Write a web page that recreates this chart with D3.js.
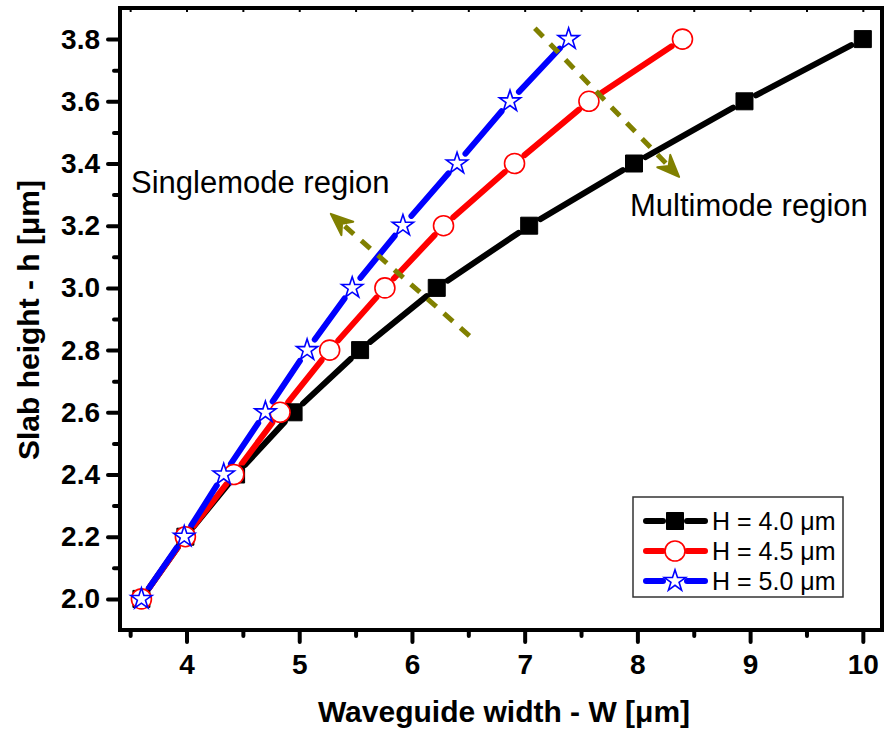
<!DOCTYPE html>
<html>
<head>
<meta charset="utf-8">
<script src="https://cdn.jsdelivr.net/npm/d3@7/dist/d3.min.js"></script>
<style>
  html, body { margin: 0; padding: 0; background: #fff; }
  svg { display: block; font-family: "Liberation Sans", Arial, sans-serif; }
</style>
</head>
<body>
<svg id="chart" width="884" height="738"></svg>
<script>
// ---- data ----
const hValues = [2.0, 2.2, 2.4, 2.6, 2.8, 3.0, 3.2, 3.4, 3.6, 3.8];
const wH40 = [3.60, 3.99, 4.44, 4.95, 5.54, 6.22, 7.04, 7.97, 8.95, 10.0];
const wH45 = [3.60, 3.99, 4.42, 4.83, 5.27, 5.76, 6.28, 6.91, 7.57, 8.40];
const wH50 = [3.60, 3.98, 4.33, 4.70, 5.07, 5.47, 5.92, 6.40, 6.87, 7.39];
const seriesNames = ["H = 4.0 \u03bcm", "H = 4.5 \u03bcm", "H = 5.0 \u03bcm"];
const xTicks = [4, 5, 6, 7, 8, 9, 10];
const xMinorTicks = [3.5, 4.5, 5.5, 6.5, 7.5, 8.5, 9.5];
const yTicks = [2.0, 2.2, 2.4, 2.6, 2.8, 3.0, 3.2, 3.4, 3.6, 3.8];
const yMinorTicks = [2.1, 2.3, 2.5, 2.7, 2.9, 3.1, 3.3, 3.5, 3.7];
const xTitle = "Waveguide width - W [\u03bcm]";
const yTitle = "Slab height - h [\u03bcm]";
const annotations = ["Singlemode region", "Multimode region"];
// arrows in data coordinates: [W0, h0, W1, h1] (arrowhead at end)
const arrowMulti = [7.09, 3.835, 8.37, 3.357];
const arrowSingle = [6.51, 2.846, 5.28, 3.238];

// ---- layout ----
const svg = d3.select("#chart");
const L = 120, R = 882, T = 8, B = 630;
const x = d3.scaleLinear().domain([3.41, 10.17]).range([L, R]);
const y = d3.scaleLinear().domain([1.9, 3.9]).range([B, T]);

const series = [
  { name: seriesNames[0], w: wH40, color: "#000000", marker: "square" },
  { name: seriesNames[1], w: wH45, color: "#ff0000", marker: "circle" },
  { name: seriesNames[2], w: wH50, color: "#0000ff", marker: "star" }
];

function markerPath(type) {
  if (type === "square") return d3.symbol(d3.symbolSquare, 289)();
  if (type === "circle") return d3.symbol(d3.symbolCircle, Math.PI * 100)();
  return d3.symbol(d3.symbolStar, 140)();
}
function styleMarker(sel, s) {
  if (s.marker === "square") sel.attr("fill", "#000").attr("stroke", "#000").attr("stroke-width", 1);
  else sel.attr("fill", "#fff").attr("stroke", s.color).attr("stroke-width", 1.6);
}

// ---- axes ----
function styleAxis(g) {
  g.select(".domain").remove();
  g.selectAll(".tick line").attr("stroke", "#000").attr("stroke-width", 4).attr("stroke-linecap", "round");
}
const gx = svg.append("g").attr("transform", `translate(0,${B})`)
  .call(d3.axisBottom(x).tickValues(xTicks).tickSize(12).tickPadding(12).tickFormat(d3.format("d")));
styleAxis(gx);
gx.selectAll("text").attr("font-size", 28).attr("font-weight", "bold").attr("fill", "#000")
  .attr("font-family", "Liberation Sans, Arial, sans-serif");
const gxm = svg.append("g").attr("transform", `translate(0,${B})`)
  .call(d3.axisBottom(x).tickValues(xMinorTicks).tickSize(6).tickFormat(""));
styleAxis(gxm);

const gy = svg.append("g").attr("transform", `translate(${L},0)`)
  .call(d3.axisLeft(y).tickValues(yTicks).tickSize(12).tickPadding(8).tickFormat(d3.format(".1f")));
styleAxis(gy);
gy.selectAll("text").attr("font-size", 28).attr("font-weight", "bold").attr("fill", "#000")
  .attr("font-family", "Liberation Sans, Arial, sans-serif");
const gym = svg.append("g").attr("transform", `translate(${L},0)`)
  .call(d3.axisLeft(y).tickValues(yMinorTicks).tickSize(6).tickFormat(""));
styleAxis(gym);

// small inward ticks on top
const gt = svg.append("g").attr("transform", `translate(0,${T})`)
  .call(d3.axisBottom(x).tickValues(xTicks.concat(xMinorTicks)).tickSize(4).tickFormat(""));
gt.select(".domain").remove();
gt.selectAll(".tick line").attr("stroke", "#000").attr("stroke-width", 2);

// frame
svg.append("rect").attr("x", L).attr("y", T).attr("width", R - L).attr("height", B - T)
  .attr("fill", "none").attr("stroke", "#000").attr("stroke-width", 4);

// ---- series ----
const gap = 13;
series.forEach(s => {
  const pts = s.w.map((w, i) => [x(w), y(hValues[i])]);
  const segs = [];
  for (let i = 0; i < pts.length - 1; i++) {
    const [x0, y0] = pts[i], [x1, y1] = pts[i + 1];
    const len = Math.hypot(x1 - x0, y1 - y0);
    if (len <= 2 * gap + 2) continue;
    const ux = (x1 - x0) / len, uy = (y1 - y0) / len;
    segs.push([[x0 + ux * gap, y0 + uy * gap], [x1 - ux * gap, y1 - uy * gap]]);
  }
  svg.append("g").selectAll("path").data(segs).join("path")
    .attr("d", d => d3.line()(d))
    .attr("stroke", s.color).attr("stroke-width", 6).attr("stroke-linecap", "round").attr("fill", "none");
});
series.forEach(s => {
  svg.append("g").selectAll("path").data(s.w.map((w, i) => [w, hValues[i]])).join("path")
    .attr("d", markerPath(s.marker))
    .attr("transform", d => `translate(${x(d[0])},${y(d[1])})`)
    .call(sel => styleMarker(sel, s));
});

// ---- arrows ----
const olive = "#808000";
function arrow(a) {
  const x0 = x(a[0]), y0 = y(a[1]), x1 = x(a[2]), y1 = y(a[3]);
  const ang = Math.atan2(y1 - y0, x1 - x0);
  const g = svg.append("g");
  const ux = Math.cos(ang), uy = Math.sin(ang);
  g.append("line").attr("x1", x0).attr("y1", y0)
    .attr("x2", x1 - ux * 12).attr("y2", y1 - uy * 12)
    .attr("stroke", olive).attr("stroke-width", 5).attr("stroke-dasharray", "12,10");
  g.append("path")
    .attr("d", "M0,0 L-22,-9 L-15,0 L-22,9 Z")
    .attr("transform", `translate(${x1},${y1}) rotate(${ang * 180 / Math.PI})`)
    .attr("fill", olive).attr("stroke", olive).attr("stroke-width", 2).attr("stroke-linejoin", "round");
}
arrow(arrowMulti);
arrow(arrowSingle);

// ---- annotations ----
svg.append("text").attr("x", 131).attr("y", 193).attr("font-size", 31).text(annotations[0]);
svg.append("text").attr("x", 630).attr("y", 216).attr("font-size", 31).text(annotations[1]);

// ---- legend ----
const lg = svg.append("g");
lg.append("rect").attr("x", 633).attr("y", 497).attr("width", 210).attr("height", 100)
  .attr("fill", "#fff").attr("stroke", "#333").attr("stroke-width", 1.5);
const rowY = [521, 551, 581];
series.forEach((s, i) => {
  const yy = rowY[i];
  lg.append("line").attr("x1", 646).attr("x2", 663).attr("y1", yy).attr("y2", yy)
    .attr("stroke", s.color).attr("stroke-width", 6).attr("stroke-linecap", "round");
  lg.append("line").attr("x1", 687).attr("x2", 705).attr("y1", yy).attr("y2", yy)
    .attr("stroke", s.color).attr("stroke-width", 6).attr("stroke-linecap", "round");
  const m = lg.append("path").attr("d", markerPath(s.marker)).attr("transform", `translate(675,${yy})`);
  styleMarker(m, s);
  lg.append("text").attr("x", 712).attr("y", yy + 9).attr("font-size", 25).text(s.name);
});

// ---- axis titles ----
svg.append("text").attr("x", 504).attr("y", 722).attr("text-anchor", "middle")
  .attr("font-size", 30).attr("font-weight", "bold").text(xTitle);
svg.append("text").attr("transform", "translate(39,320) rotate(-90)").attr("text-anchor", "middle")
  .attr("font-size", 30).attr("font-weight", "bold").text(yTitle);
</script>
</body>
</html>
